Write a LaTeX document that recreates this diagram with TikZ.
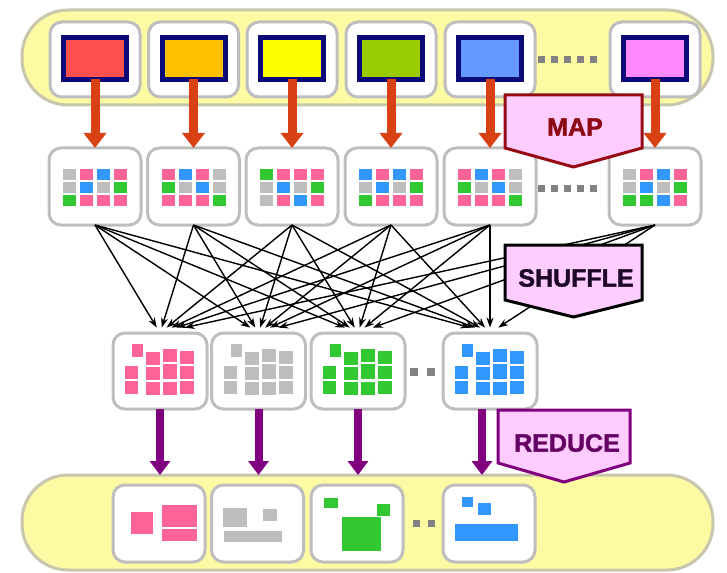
\documentclass[tikz,border=0pt]{standalone}
\usepackage{fontspec}
\setmainfont{Liberation Sans}
\newfontfamily\bannerfont[FakeBold=1.6]{Liberation Sans Bold}
\usetikzlibrary{arrows.meta,calc}

\definecolor{bandfill}{RGB}{252,250,162}
\definecolor{bandline}{RGB}{200,198,172}
\definecolor{boxline}{RGB}{190,190,190}
\definecolor{navy}{RGB}{12,10,120}
\definecolor{maparrow}{RGB}{215,65,20}
\definecolor{reducecol}{RGB}{128,0,128}
\definecolor{reducetext}{RGB}{100,0,100}
\definecolor{bannerfill}{RGB}{255,204,255}
\definecolor{mapline}{RGB}{150,10,20}
\definecolor{maptext}{RGB}{140,10,20}
\definecolor{shuftext}{RGB}{30,10,40}
\definecolor{dotgray}{RGB}{130,130,130}
% small record colours
\definecolor{cg}{RGB}{190,190,190}
\definecolor{cp}{RGB}{255,100,150}
\definecolor{cb}{RGB}{50,150,255}
\definecolor{cn}{RGB}{50,200,50}
% input split colours
\definecolor{in1}{RGB}{255,80,80}
\definecolor{in2}{RGB}{255,192,0}
\definecolor{in3}{RGB}{255,255,0}
\definecolor{in4}{RGB}{153,204,0}
\definecolor{in5}{RGB}{102,153,255}
\definecolor{in6}{RGB}{255,136,255}

% 4x3 grid of key/value records inside a map output card
\newcommand\cellgrid[2]{%
  \foreach \c [count=\k from 0] in {#2} {
    \pgfmathtruncatemacro\gc{mod(\k,4)}
    \pgfmathtruncatemacro\gr{div(\k,4)}
    \fill[fill=c\c] ($(#1.center)+(-32+17*\gc,-17.5+13*\gr)$) rectangle ++(13,11);
  }}

% grouped records inside a reducer card
\newcommand\clusterfill[2]{%
  \foreach \ax/\ay/\bx/\by in {19/11/30/24, 12/33/25/46, 12/48/25/61,
      33/19/47/32, 33/34/47/47, 33/49/47/62,
      50/16/64/29, 50/31/64/46, 50/49/64/62,
      67/18/81/31, 67/33/81/46, 67/48/81/61}
    \fill[#2] ($(#1.north west)+(\ax,\ay)$) rectangle ($(#1.north west)+(\bx,\by)$);}

\begin{document}
\begin{tikzpicture}[x=1pt,y=-1pt,
  band/.style={draw=bandline,line width=3pt,fill=bandfill,rounded corners=46pt,
    minimum width=691pt,minimum height=95pt,outer sep=0pt,inner sep=0pt},
  card/.style={draw=boxline,line width=3pt,fill=white,rounded corners=12pt,
    minimum width=#1,minimum height=76pt,outer sep=0pt,inner sep=0pt},
  card/.default=92pt,
  split/.style={draw=navy,line width=5pt,fill=#1,minimum width=63pt,
    minimum height=42pt,outer sep=0pt,inner sep=0pt},
  maparr/.style={draw=maparrow,line width=9pt,-{Triangle[width=22pt,length=15pt]}},
  redarr/.style={draw=reducecol,line width=8pt,-{Triangle[width=20pt,length=14pt]}},
  shufarr/.style={draw=black,line width=1.4pt,-{Stealth[length=10pt,width=7pt]}},
  banner/.style={line width=3pt,fill=bannerfill,line join=miter},
  bannertext/.style={font=\fontsize{25}{25}\selectfont\bannerfont,inner sep=0pt}
]
\useasboundingbox (0,0) rectangle (727,572);

% input and output bands
\node[band] (topband) at (367.5,57.5) {};
\node[band] (botband) at (367.5,522.5) {};

% input splits
\foreach \i/\x in {1/95,2/193.5,3/292,4/391,5/490,6/655} {
  \node[card=90pt,minimum height=75pt] (t\i) at (\x,59.5) {};
  \node[split=in\i] (s\i) at (\x,58.5) {};
}
\foreach \x in {541,554,567,580,593}
  \fill[dotgray] (\x-3.5,56.5) rectangle ++(7,7);

% map outputs
\foreach \i/\x in {1/95,2/193.5,3/292,4/391,5/490,6/655}
  \node[card=92pt,minimum height=77pt] (m\i) at (\x,186.5) {};
\cellgrid{m1}{g,p,b,p, g,b,g,n, n,p,p,p}
\cellgrid{m2}{p,b,p,g, n,g,b,g, p,p,p,n}
\cellgrid{m3}{n,p,p,p, g,b,g,n, g,p,b,p}
\cellgrid{m4}{b,p,b,p, g,b,g,n, n,p,p,p}
\cellgrid{m5}{p,b,p,g, n,g,b,g, p,p,p,n}
\cellgrid{m6}{g,p,b,p, g,b,g,n, n,n,b,p}
\foreach \x in {541,554,567,580,593}
  \fill[dotgray] (\x-3.5,184.5) rectangle ++(7,7);

% reducers
\foreach \i/\x in {1/160,2/258.5,3/358,4/490}
  \node[card=94pt] (r\i) at (\x,371) {};
\clusterfill{r1}{cp}
\clusterfill{r2}{cg}
\clusterfill{r3}{cn}
\clusterfill{r4}{cb}
\foreach \x in {414,431}
  \fill[dotgray] (\x-4,368) rectangle ++(8,8);

% final outputs
\foreach \i/\x in {1/159,2/257.5,3/357,4/489}
  \node[card=92pt,minimum height=77pt] (o\i) at (\x,523.5) {};
\fill[cp] ($(o1.north west)+(18,27)$) rectangle ($(o1.north west)+(40,49)$);
\fill[cp] ($(o1.north west)+(49,20)$) rectangle ($(o1.north west)+(84,42)$);
\fill[cp] ($(o1.north west)+(49,44)$) rectangle ($(o1.north west)+(84,56)$);
\fill[cg] ($(o2.north west)+(11,23)$) rectangle ($(o2.north west)+(35,42)$);
\fill[cg] ($(o2.north west)+(51,24)$) rectangle ($(o2.north west)+(65,36)$);
\fill[cg] ($(o2.north west)+(12,46)$) rectangle ($(o2.north west)+(70,57)$);
\fill[cn] ($(o3.north west)+(13,13)$) rectangle ($(o3.north west)+(27,23)$);
\fill[cn] ($(o3.north west)+(66,19)$) rectangle ($(o3.north west)+(79,31)$);
\fill[cn] ($(o3.north west)+(31,32)$) rectangle ($(o3.north west)+(70,66)$);
\fill[cb] ($(o4.north west)+(19,12)$) rectangle ($(o4.north west)+(30,22)$);
\fill[cb] ($(o4.north west)+(35,18)$) rectangle ($(o4.north west)+(48,30)$);
\fill[cb] ($(o4.north west)+(12,39)$) rectangle ($(o4.north west)+(75,56)$);
\foreach \x in {416,431}
  \fill[dotgray] (\x-3.5,519.5) rectangle ++(7,7);

% shuffle: every map output feeds every reducer
\foreach \s in {1,...,6}
  \foreach \t in {1,...,4}
    \draw[shufarr] (m\s.south) -- ($(r\t.north)!0.05!(m\s.south)$);

% map and reduce arrows
\foreach \i in {1,...,6}
  \draw[maparr] (s\i.south) -- (m\i.north);
\foreach \i in {1,2,3}
  \draw[redarr] (r\i.south) -- (r\i.south |- botband.north);
\draw[redarr] ([xshift=-8pt]r4.south) -- ([xshift=-8pt]r4.south |- botband.north);

% phase banners
\draw[banner,draw=mapline] (505,95) -- (642,95) -- (642,148) -- (573.5,167) -- (505,148) -- cycle;
\node[bannertext,text=maptext] (maplabel) at (575,127) {MAP};
\draw[banner,draw=black] (505,245) -- (642,245) -- (642,300) -- (573.5,317) -- (505,300) -- cycle;
\node[bannertext,text=shuftext] (shuflabel) at (576,278) {SHUFFLE};
\draw[banner,draw=reducecol] (498,410) -- (630,410) -- (630,463) -- (564,482) -- (498,463) -- cycle;
\node[bannertext,text=reducetext] (redlabel) at (567,443) {REDUCE};
\end{tikzpicture}
\end{document}
